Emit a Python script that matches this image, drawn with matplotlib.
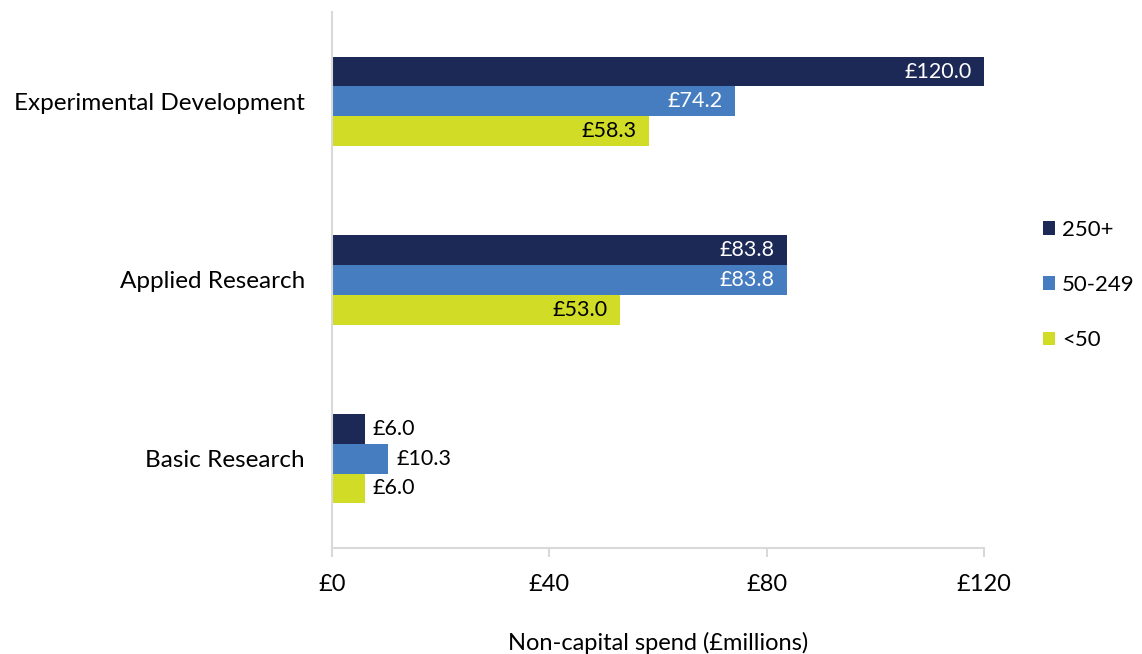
import matplotlib
matplotlib.use("Agg")
import matplotlib.pyplot as plt
import numpy as np
from matplotlib.patches import Patch

plt.rcParams['font.family'] = ['Lato', 'DejaVu Sans']

categories = ["Experimental Development", "Applied Research", "Basic Research"]
series_names = ["250+", "50-249", "<50"]
values_250 = [120.0, 83.8, 6.0]
values_50_249 = [74.2, 83.8, 10.3]
values_lt50 = [58.3, 53.0, 6.0]
tick_values = [0, 40, 80, 120]
tick_labels = ["£0", "£40", "£80", "£120"]

colors = ["#1c2957", "#467dc0", "#d0dc26"]
label_colors = ["white", "white", "black"]

fig = plt.figure(figsize=(11.42, 6.54), dpi=100)
ax = fig.add_axes([332 / 1142, 106 / 654, 652 / 1142, 536 / 654])

n_cat = len(categories)
centers = np.arange(n_cat)[::-1] + 0.5  # top category first
bar_h = 1.0 / 6
all_series = [values_250, values_50_249, values_lt50]

for i, (vals, col, lcol) in enumerate(zip(all_series, colors, label_colors)):
    y = centers + bar_h - i * bar_h
    bars = ax.barh(y, vals, height=bar_h, color=col, edgecolor='none')
    for b, v in zip(bars, vals):
        yc = b.get_y() + b.get_height() / 2
        txt = f"£{v:.1f}"
        if v > 30:
            ax.annotate(txt, (v, yc), xytext=(-9, 0), textcoords='offset points',
                        ha='right', va='center', color=lcol, fontsize=15.5)
        else:
            ax.annotate(txt, (v, yc), xytext=(6, 0), textcoords='offset points',
                        ha='left', va='center', color='black', fontsize=15.5)

ax.set_xlim(0, 120)
ax.set_ylim(0, n_cat)
ax.set_xticks(tick_values)
ax.set_xticklabels(tick_labels, fontsize=17)
ax.set_yticks(centers)
ax.set_yticklabels(categories, fontsize=17.5)
ax.tick_params(axis='y', length=0, pad=19.5)
ax.tick_params(axis='x', length=6.5, color='#d9d9d9', width=1.5, pad=12)

for s in ['top', 'right']:
    ax.spines[s].set_visible(False)
for s in ['left', 'bottom']:
    ax.spines[s].set_color('#d9d9d9')
    ax.spines[s].set_linewidth(1.5)

ax.set_xlabel("Non-capital spend (£millions)", fontsize=17, labelpad=27)

handles = [Patch(facecolor=c, edgecolor='none') for c in colors]
fig.legend(handles, series_names, loc='center left',
           bbox_to_anchor=(1023 / 1142, 1 - 285 / 654), frameon=False,
           fontsize=16, handlelength=0.55, handleheight=0.55,
           handletextpad=0.3, labelspacing=1.58)

fig.savefig("out.png", dpi=100, facecolor='white')
